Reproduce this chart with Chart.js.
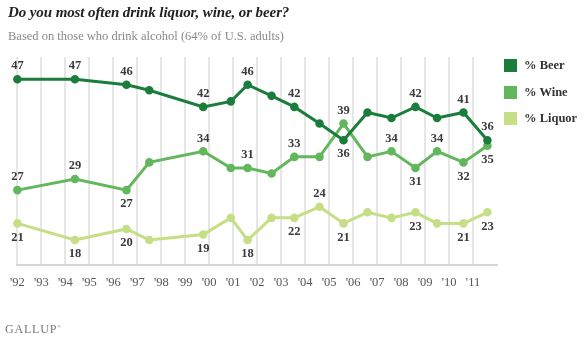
<!DOCTYPE html>
<html>
<head>
<meta charset="utf-8">
<script src="https://cdn.jsdelivr.net/npm/chart.js@4.4.0/dist/chart.umd.min.js"></script>
<style>
    body { margin: 0; background: #fff; }
    #wrap { position: relative; width: 584px; height: 346px; font-family: "Liberation Serif", serif; }
    #chart { position: absolute; left: 0; top: 0; }
    .title { position: absolute; left: 8px; top: 4px; font: italic bold 15px "Liberation Serif", serif; color: #222; white-space: nowrap; letter-spacing: -0.1px; }
    .subtitle { position: absolute; left: 8px; top: 29px; font: 12.5px "Liberation Serif", serif; color: #8a8a8a; white-space: nowrap; }
    .legend { position: absolute; left: 504px; top: 59px; }
    .legend div { position: relative; height: 26.5px; font: bold 12.5px "Liberation Serif", serif; color: #333; }
    .legend span { position: absolute; left: 0; top: 0; width: 13px; height: 13px; }
    .legend b { position: absolute; left: 20px; top: -1px; white-space: nowrap; }
    .logo { position: absolute; left: 5px; top: 322px; font: 12px "Liberation Serif", serif; color: #777; letter-spacing: 0.8px; }
    .logo sup { font-size: 5px; letter-spacing: 0; }
</style>
</head>
<body>
<div id="wrap">
    <canvas id="chart" width="584" height="346"></canvas>
    <div class="title">Do you most often drink liquor, wine, or beer?</div>
    <div class="subtitle">Based on those who drink alcohol (64% of U.S. adults)</div>
    <div class="legend" id="legend"></div>
    <div class="logo">GALLUP<sup>®</sup></div>
</div>
<script>
// survey dates (fractional year) and percentages
const years = [1992.0, 1994.4, 1996.55, 1997.5, 1999.75, 2000.9, 2001.6, 2002.6, 2003.55, 2004.6, 2005.6, 2006.6, 2007.6, 2008.6, 2009.5, 2010.6, 2011.6];
const beer = [47, 47, 46, 45, 42, 43, 46, 44, 42, 39, 36, 41, 40, 42, 40, 41, 36];
const wine = [27, 29, 27, 32, 34, 31, 31, 30, 33, 33, 39, 33, 34, 31, 34, 32, 35];
const liquor = [21, 18, 20, 18, 19, 22, 18, 22, 22, 24, 21, 23, 22, 23, 21, 21, 23];

// which points carry a value label: a = above, b = below
const beerLabels = ["a", "a", "a", "", "a", "", "a", "", "a", "", "b", "", "", "a", "", "a", "a"];
const wineLabels = ["a", "a", "b", "", "a", "", "a", "", "a", "", "a", "", "a", "b", "a", "b", "b"];
const liquorLabels = ["b", "b", "b", "", "b", "", "b", "", "b", "a", "b", "", "", "b", "", "b", "b"];

const seriesNames = ["% Beer", "% Wine", "% Liquor"];
const seriesColors = ["#1b7d3c", "#62b75d", "#c6de86"];

function toPoints(values) {
    return values.map(function (v, i) {
        return { x: years[i], y: v };
    });
}

const legend = document.getElementById("legend");
seriesNames.forEach(function (name, i) {
    const row = document.createElement("div");
    row.innerHTML = "<span style='background:" + seriesColors[i] + "'></span><b>" + name + "</b>";
    legend.appendChild(row);
});

const allLabels = [beerLabels, wineLabels, liquorLabels];

const valueLabels = {
    id: "valueLabels",
    afterDatasetsDraw: function (chart) {
        const ctx = chart.ctx;
        ctx.save();
        ctx.font = "bold 12.5px 'Liberation Serif', serif";
        ctx.fillStyle = "#3a3a3a";
        ctx.textAlign = "center";
        ctx.textBaseline = "middle";
        chart.data.datasets.forEach(function (ds, di) {
            const meta = chart.getDatasetMeta(di);
            meta.data.forEach(function (pt, i) {
                const pos = allLabels[di][i];
                if (!pos) return;
                const dy = pos === "a" ? -13 : 14;
                ctx.fillText(String(ds.data[i].y), pt.x, pt.y + dy);
            });
        });
        ctx.restore();
    }
};

function makeSet(label, values, color) {
    return {
        label: label,
        data: toPoints(values),
        borderColor: color,
        backgroundColor: color,
        pointBackgroundColor: color,
        pointBorderColor: color,
        pointRadius: 2.8,
        pointHoverRadius: 2.8,
        borderWidth: 3,
        tension: 0,
        clip: false
    };
}

new Chart(document.getElementById("chart").getContext("2d"), {
    type: "line",
    data: {
        datasets: [
            makeSet(seriesNames[0], beer, seriesColors[0]),
            makeSet(seriesNames[1], wine, seriesColors[1]),
            makeSet(seriesNames[2], liquor, seriesColors[2])
        ]
    },
    options: {
        responsive: false,
        animation: false,
        devicePixelRatio: 1,
        layout: { padding: { left: 16, right: 87, top: 57, bottom: 51 } },
        scales: {
            x: {
                type: "linear",
                min: 1992,
                max: 2012,
                afterFit: function (scale) { scale.height = 30; },
                grid: { color: "#e6e6e6", lineWidth: 2, drawTicks: false },
                border: { color: "#d6d6d6", width: 2 },
                ticks: {
                    stepSize: 1,
                    padding: 10,
                    maxRotation: 0,
                    autoSkip: false,
                    color: "#555",
                    font: { family: "'Liberation Serif', serif", size: 12.5 },
                    callback: function (v) {
                        if (v > 2011) return null;
                        return "'" + String(v % 100).padStart(2, "0");
                    }
                }
            },
            y: {
                display: false,
                min: 13.5,
                max: 51
            }
        },
        plugins: {
            legend: { display: false },
            tooltip: { enabled: false }
        }
    },
    plugins: [valueLabels]
});
</script>
</body>
</html>
